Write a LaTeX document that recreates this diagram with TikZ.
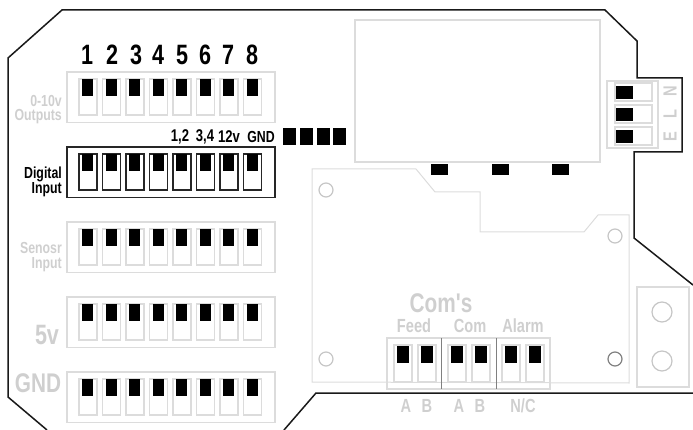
\documentclass[tikz,border=0pt]{standalone}
\usepackage{fontspec}
\setmainfont{Liberation Sans}
\newfontfamily\narrowfont[FakeStretch=0.77]{Liberation Sans}
\definecolor{lightline}{HTML}{DCDCDC}
\definecolor{lighttext}{HTML}{CFCFCF}
\tikzset{
    graybox/.style={draw=lightline,line width=1.2pt},
    darkbox/.style={draw=black!85,line width=1.2pt},
    blackpad/.style={fill=black,draw=none},
    hole/.style={draw=lightline!90!black,line width=1.2pt},
    lbl/.style={inner sep=0pt,font=\narrowfont\fontsize{#1}{#1}\selectfont\bfseries},
    graylbl/.style={lbl=#1,text=lighttext},
    blacklbl/.style={lbl=#1,text=black}
}
% one row of eight pins: top of frame, frame style
\newcommand{\pinrow}[2]{
    \draw[#2] (67,#1) rectangle (275,#1+50.5);
    \foreach \n in {0,...,7} {
        \draw[#2] (79+23.5*\n,#1+7) rectangle (97+23.5*\n,#1+43);
        \fill[blackpad] (82+23.5*\n,#1+7) rectangle (93+23.5*\n,#1+24);
    }
}
\begin{document}
\begin{tikzpicture}[x=1pt,y=-1pt]
    \useasboundingbox (0,0) rectangle (693,430);

    % case outline
    \draw[black!90,line width=1.5pt,line join=miter] (47,430) -- (8,397) -- (8,58) -- (62,10) -- (605,10) -- (637,41) -- (637,78) -- (682,78) -- (682,152) -- (634,152) -- (634,238) -- (693,285);
    \draw[black!90,line width=1.5pt] (693,393) -- (316,393) -- (284,430);

    % channel rows
    \pinrow{72}{graybox}
    \pinrow{147}{darkbox}
    \pinrow{222}{graybox}
    \pinrow{297}{graybox}
    \pinrow{372}{graybox}

    % channel numbers
    \node[blacklbl=28] (n1) at (87,55) {1};
    \node[blacklbl=28] (n2) at (112,55) {2};
    \node[blacklbl=28] (n3) at (136,55) {3};
    \node[blacklbl=28] (n4) at (158,55) {4};
    \node[blacklbl=28] (n5) at (182,55) {5};
    \node[blacklbl=28] (n6) at (205,55) {6};
    \node[blacklbl=28] (n7) at (228,55) {7};
    \node[blacklbl=28] (n8) at (252,55) {8};

    % row labels
    \node[graylbl=16,anchor=east] (out1) at (62,101) {0-10v};
    \node[graylbl=16,anchor=east] (out2) at (62,117) {Outputs};
    \node[blacklbl=16,anchor=east] (dig1) at (62,174) {Digital};
    \node[blacklbl=16,anchor=east] (dig2) at (62,190) {Input};
    \node[graylbl=16,anchor=east] (sen1) at (62,248) {Senosr};
    \node[graylbl=16,anchor=east] (sen2) at (62,265) {Input};
    \node[graylbl=28] (fivev) at (47,335) {5v};
    \node[graylbl=27] (gnd) at (38,383) {GND};

    % digital input links
    \node[blacklbl=17] (l12) at (180,137) {1,2};
    \node[blacklbl=17] (l34) at (205,137) {3,4};
    \node[blacklbl=17] (l12v) at (229,137) {12v};
    \node[blacklbl=16] (lgnd) at (261,137) {GND};
    \foreach \x in {283,300,317,333}
        \fill[blackpad] (\x,128) rectangle (\x+13,145);

    % relay cover and its pads
    \draw[graybox] (355,20) rectangle (600,162);
    \foreach \x in {431,492,552}
        \fill[blackpad] (\x,164) rectangle (\x+17,175);

    % mains terminal
    \draw[graybox] (607,81) rectangle (658,148);
    \foreach \y in {83,105,127} {
        \draw[graybox] (615,\y) rectangle (652,\y+18);
        \fill[blackpad] (616,\y+3) rectangle (633,\y+16);
    }
    \node[graylbl=19,rotate=90] (tn) at (670,91) {N};
    \node[graylbl=19,rotate=90] (tl) at (670,114) {L};
    \node[graylbl=19,rotate=90] (te) at (670,137) {E};

    % lower board
    \draw[draw=lightline,line width=1pt] (312,169) -- (416,169) -- (435,192) -- (480,192) -- (480,232) -- (584,232) -- (598,215) -- (629,215) -- (629,383) -- (312,382) -- cycle;
    \draw[hole] (326,190) circle (7);
    \draw[hole] (326,359) circle (7);
    \draw[hole] (615,236) circle (7);
    \draw[draw=gray,line width=1.2pt] (615,359) circle (7);

    % supply block
    \draw[graybox] (637,287) rectangle (689,387);
    \draw[hole] (662,312) circle (10);
    \draw[hole] (662,361) circle (10);

    % comms terminal
    \draw[graybox] (387,338) rectangle (550,389);
    \draw[draw=gray,line width=.7pt] (441,338) -- (441,389);
    \draw[draw=gray,line width=.7pt] (496,338) -- (496,389);
    \foreach \x in {394,418,448,472,502,526} {
        \draw[graybox] (\x,345) rectangle (\x+18,382);
        \fill[blackpad] (\x+3,346) rectangle (\x+15,363);
    }
    \node[graylbl=27] (coms) at (441,303) {Com's};
    \node[graylbl=19] (feed) at (414,326) {Feed};
    \node[graylbl=19] (com) at (470,326) {Com};
    \node[graylbl=19] (alarm) at (523,326) {Alarm};
    \node[graylbl=19] (a1) at (406,406) {A};
    \node[graylbl=19] (b1) at (427,406) {B};
    \node[graylbl=19] (a2) at (459,406) {A};
    \node[graylbl=19] (b2) at (480,406) {B};
    \node[graylbl=19] (nc) at (523,406) {N/C};

\end{tikzpicture}
\end{document}
